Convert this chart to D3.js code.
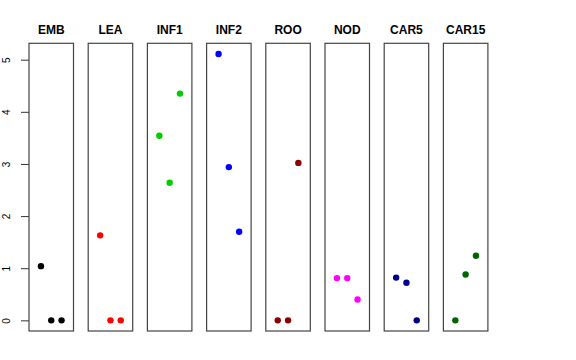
<!doctype html>
<html>
<head>
<meta charset="UTF-8">
<script src="https://d3js.org/d3.v7.min.js"></script>
<style>
body { margin: 0; background: #fff; }
svg { display: block; font-family: "Liberation Sans", Arial, sans-serif; }
.box { fill: none; stroke: #444; stroke-width: 1.2px; }
.title { font-size: 12px; font-weight: bold; text-anchor: middle; }
.tick text { font-size: 10px; }
</style>
</head>
<body>
<div id="main"></div>
<script>
// panels and their values (positions 1, 2, 3 in each panel)
var tissues = ["EMB", "LEA", "INF1", "INF2", "ROO", "NOD", "CAR5", "CAR15"];
var colors  = ["#000000", "#ff0000", "#00cd00", "#0000ff", "#8b0000", "#ff00ff", "#00008b", "#006400"];
var values  = [
  [1.04, 0, 0],
  [1.63, 0, 0],
  [3.54, 2.64, 4.35],
  [5.11, 2.94, 1.70],
  [0, 0, 3.02],
  [0.81, 0.81, 0.40],
  [0.82, 0.72, 0],
  [0, 0.88, 1.24]
];
var yTicks = [0, 1, 2, 3, 4, 5];

var width = 576, height = 360;
var plotTop = 43.3, plotBottom = 331,
    left0 = 29, panelW = 44.5, pitch = 59.2;

var svg = d3.select("#main").append("svg")
  .attr("width", width)
  .attr("height", height);

var ymax = d3.max(values, function(v) { return d3.max(v); });
var pad = ymax * 0.04;
var y = d3.scaleLinear()
  .domain([-pad, ymax + pad])
  .range([plotBottom, plotTop]);

// y axis on the first panel only
var yAxis = svg.append("g")
  .attr("transform", "translate(" + left0 + ",0)")
  .call(d3.axisLeft(y).tickValues(yTicks).tickFormat(d3.format("d")).tickSize(8));
yAxis.select(".domain").remove();
yAxis.selectAll(".tick line").attr("stroke", "#333");
yAxis.selectAll(".tick text")
  .attr("transform", "rotate(-90)")
  .attr("x", 0)
  .attr("y", -19)
  .attr("dy", 0)
  .style("text-anchor", "middle")
  .attr("fill", "#000");

tissues.forEach(function(name, k) {
  var x0 = left0 + k * pitch;
  var x = d3.scaleLinear()
    .domain([-0.16, 4.16])
    .range([x0, x0 + panelW]);

  var g = svg.append("g");

  g.append("rect")
    .attr("class", "box")
    .attr("x", x0)
    .attr("y", plotTop)
    .attr("width", panelW)
    .attr("height", plotBottom - plotTop);

  g.append("text")
    .attr("class", "title")
    .attr("x", x0 + panelW / 2)
    .attr("y", 34)
    .text(name);

  g.selectAll(".pt")
    .data(values[k])
  .enter().append("circle")
    .attr("class", "pt")
    .attr("cx", function(d, i) { return x(i + 1); })
    .attr("cy", function(d) { return y(d); })
    .attr("r", 3.2)
    .attr("fill", colors[k]);
});
</script>
</body>
</html>
